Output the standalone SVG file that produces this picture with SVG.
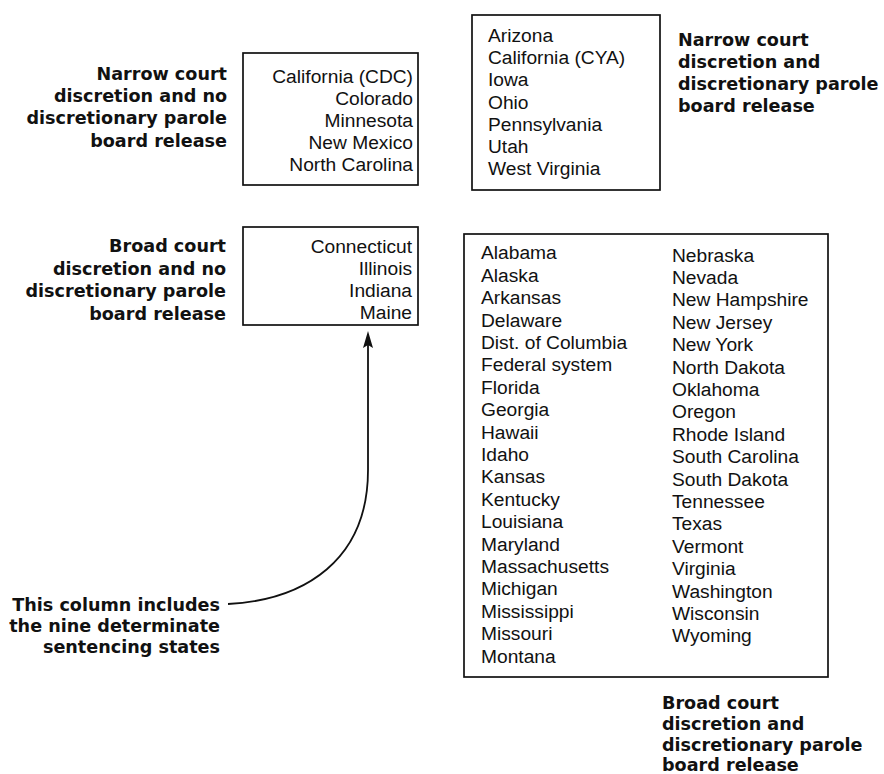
<svg xmlns="http://www.w3.org/2000/svg" width="884" height="774" viewBox="0 0 884 774">
<style>
.box{fill:none;stroke:#111;stroke-width:1.7}
.t{font-family:"Liberation Sans",Arial,sans-serif;font-size:19.2px;fill:#111}
.r{text-anchor:end}
.b{font-family:"DejaVu Sans","Liberation Sans",sans-serif;font-weight:bold;font-size:17.6px;fill:#111}
.ln{fill:none;stroke:#111;stroke-width:1.8}
</style>
<rect width="884" height="774" fill="#fff"/>
<g id="label-narrow-no-parole">
<text class="b r" x="227" y="80">Narrow court</text>
<text class="b r" x="227" y="102">discretion and no</text>
<text class="b r" x="227" y="124">discretionary parole</text>
<text class="b r" x="227" y="147">board release</text>
</g>
<g id="box-narrow-no-parole">
<rect class="box" x="243" y="53" width="175" height="132"/>
<text class="t r" x="413" y="82.5">California (CDC)</text>
<text class="t r" x="413" y="104.7">Colorado</text>
<text class="t r" x="413" y="126.9">Minnesota</text>
<text class="t r" x="413" y="149.1">New Mexico</text>
<text class="t r" x="413" y="171.3">North Carolina</text>
</g>
<g id="box-narrow-parole">
<rect class="box" x="472" y="15" width="188" height="175"/>
<text class="t" x="488" y="42">Arizona</text>
<text class="t" x="488" y="64.2">California (CYA)</text>
<text class="t" x="488" y="86.4">Iowa</text>
<text class="t" x="488" y="108.6">Ohio</text>
<text class="t" x="488" y="130.8">Pennsylvania</text>
<text class="t" x="488" y="153">Utah</text>
<text class="t" x="488" y="175.2">West Virginia</text>
</g>
<g id="label-narrow-parole">
<text class="b" x="678" y="46">Narrow court</text>
<text class="b" x="678" y="68">discretion and</text>
<text class="b" x="678" y="90">discretionary parole</text>
<text class="b" x="678" y="112">board release</text>
</g>
<g id="label-broad-no-parole">
<text class="b r" x="226" y="252">Broad court</text>
<text class="b r" x="226" y="274.5">discretion and no</text>
<text class="b r" x="226" y="297">discretionary parole</text>
<text class="b r" x="226" y="319.5">board release</text>
</g>
<g id="box-broad-no-parole">
<rect class="box" x="243" y="227" width="175" height="98"/>
<text class="t r" x="412" y="253">Connecticut</text>
<text class="t r" x="412" y="275">Illinois</text>
<text class="t r" x="412" y="297">Indiana</text>
<text class="t r" x="412" y="319">Maine</text>
</g>
<g id="box-broad-parole">
<rect class="box" x="464" y="234" width="364" height="443"/>
<text class="t" x="481" y="259.3">Alabama</text>
<text class="t" x="481" y="281.7">Alaska</text>
<text class="t" x="481" y="304.1">Arkansas</text>
<text class="t" x="481" y="326.5">Delaware</text>
<text class="t" x="481" y="348.9">Dist. of Columbia</text>
<text class="t" x="481" y="371.3">Federal system</text>
<text class="t" x="481" y="393.7">Florida</text>
<text class="t" x="481" y="416.1">Georgia</text>
<text class="t" x="481" y="438.5">Hawaii</text>
<text class="t" x="481" y="460.9">Idaho</text>
<text class="t" x="481" y="483.3">Kansas</text>
<text class="t" x="481" y="505.7">Kentucky</text>
<text class="t" x="481" y="528.1">Louisiana</text>
<text class="t" x="481" y="550.5">Maryland</text>
<text class="t" x="481" y="572.9">Massachusetts</text>
<text class="t" x="481" y="595.3">Michigan</text>
<text class="t" x="481" y="617.7">Mississippi</text>
<text class="t" x="481" y="640.1">Missouri</text>
<text class="t" x="481" y="662.5">Montana</text>
<text class="t" x="672" y="261.5">Nebraska</text>
<text class="t" x="672" y="283.9">Nevada</text>
<text class="t" x="672" y="306.3">New Hampshire</text>
<text class="t" x="672" y="328.7">New Jersey</text>
<text class="t" x="672" y="351.1">New York</text>
<text class="t" x="672" y="373.5">North Dakota</text>
<text class="t" x="672" y="395.9">Oklahoma</text>
<text class="t" x="672" y="418.3">Oregon</text>
<text class="t" x="672" y="440.7">Rhode Island</text>
<text class="t" x="672" y="463.1">South Carolina</text>
<text class="t" x="672" y="485.5">South Dakota</text>
<text class="t" x="672" y="507.9">Tennessee</text>
<text class="t" x="672" y="530.3">Texas</text>
<text class="t" x="672" y="552.7">Vermont</text>
<text class="t" x="672" y="575.1">Virginia</text>
<text class="t" x="672" y="597.5">Washington</text>
<text class="t" x="672" y="619.9">Wisconsin</text>
<text class="t" x="672" y="642.3">Wyoming</text>
</g>
<g id="label-broad-parole">
<text class="b" x="662" y="709">Broad court</text>
<text class="b" x="662" y="730">discretion and</text>
<text class="b" x="662" y="751">discretionary parole</text>
<text class="b" x="662" y="771">board release</text>
</g>
<g id="label-determinate">
<text class="b r" x="220" y="611">This column includes</text>
<text class="b r" x="220" y="632">the nine determinate</text>
<text class="b r" x="220" y="653">sentencing states</text>
</g>
<g id="connectors">
<path class="ln" d="M228 604 C 305 600, 368 560, 368 470 L 368 344"/>
<path d="M368 331 L373 348 L368 345 L363 348 Z" fill="#111"/>
</g>
</svg>
